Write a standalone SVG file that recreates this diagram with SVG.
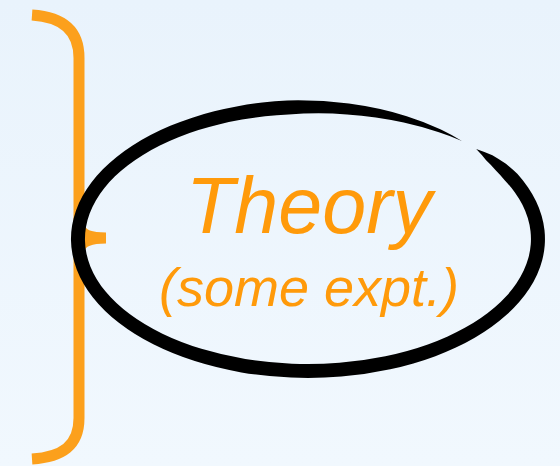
<svg xmlns="http://www.w3.org/2000/svg" width="560" height="466" viewBox="0 0 560 466">
  <defs>
    <linearGradient id="bg" x1="0" y1="0" x2="0" y2="1">
      <stop offset="0" stop-color="#e9f3fc"/>
      <stop offset="1" stop-color="#f1f8fe"/>
    </linearGradient>
    <style>
      .brace { fill: none; stroke: #fca01c; stroke-width: 11; stroke-linecap: butt; stroke-linejoin: round; }
      .brush { fill: #000; stroke: none; }
      .lbl { fill: #ff9a0a; font-family: "Liberation Sans", Arial, sans-serif; font-style: italic; text-anchor: middle; }
    </style>
  </defs>
  <rect width="560" height="466" fill="url(#bg)"/>
  <g id="brace">
    <path class="brace" d="M 32,15 C 62,17 79,30 79,58 L 79,224 Q 79,238 106,238 M 106,238 Q 79,238 79,252 L 79,418 C 79,446 62,457 32,459"/>
  </g>
  <g id="theory">
    <path class="brush" d="M 476.2,149.0
      A 234 136 0 0 1 492.4,155.2
      A 236 138 0 0 1 505.9,163.8
      A 237 139 0 0 1 517.3,173.8
      A 237 139 0 1 1 287.3,100.5
      A 236 138 0 0 1 348.9,103.6
      A 234 136 0 0 1 406.7,116.2
      A 232 134 0 0 1 440.9,129.4
      A 231 133 0 0 1 461.9,140.9
      A 229 131 0 0 0 438.9,132.3
      A 227 129 0 0 0 403.7,122.5
      A 225 127 0 0 0 347.0,114.4
      A 224 126 0 0 0 288.6,114.5
      A 223 125 0 1 0 504.9,180.4
      A 224 126 0 0 0 495.9,170.4
      A 226 128 0 0 0 486.1,160.2
      A 228 130 0 0 0 476.2,149.0 Z"/>
    <text class="lbl" x="309" y="233" font-size="79">Theory</text>
    <text class="lbl" x="309" y="306" font-size="54">(some expt.)</text>
  </g>
</svg>
